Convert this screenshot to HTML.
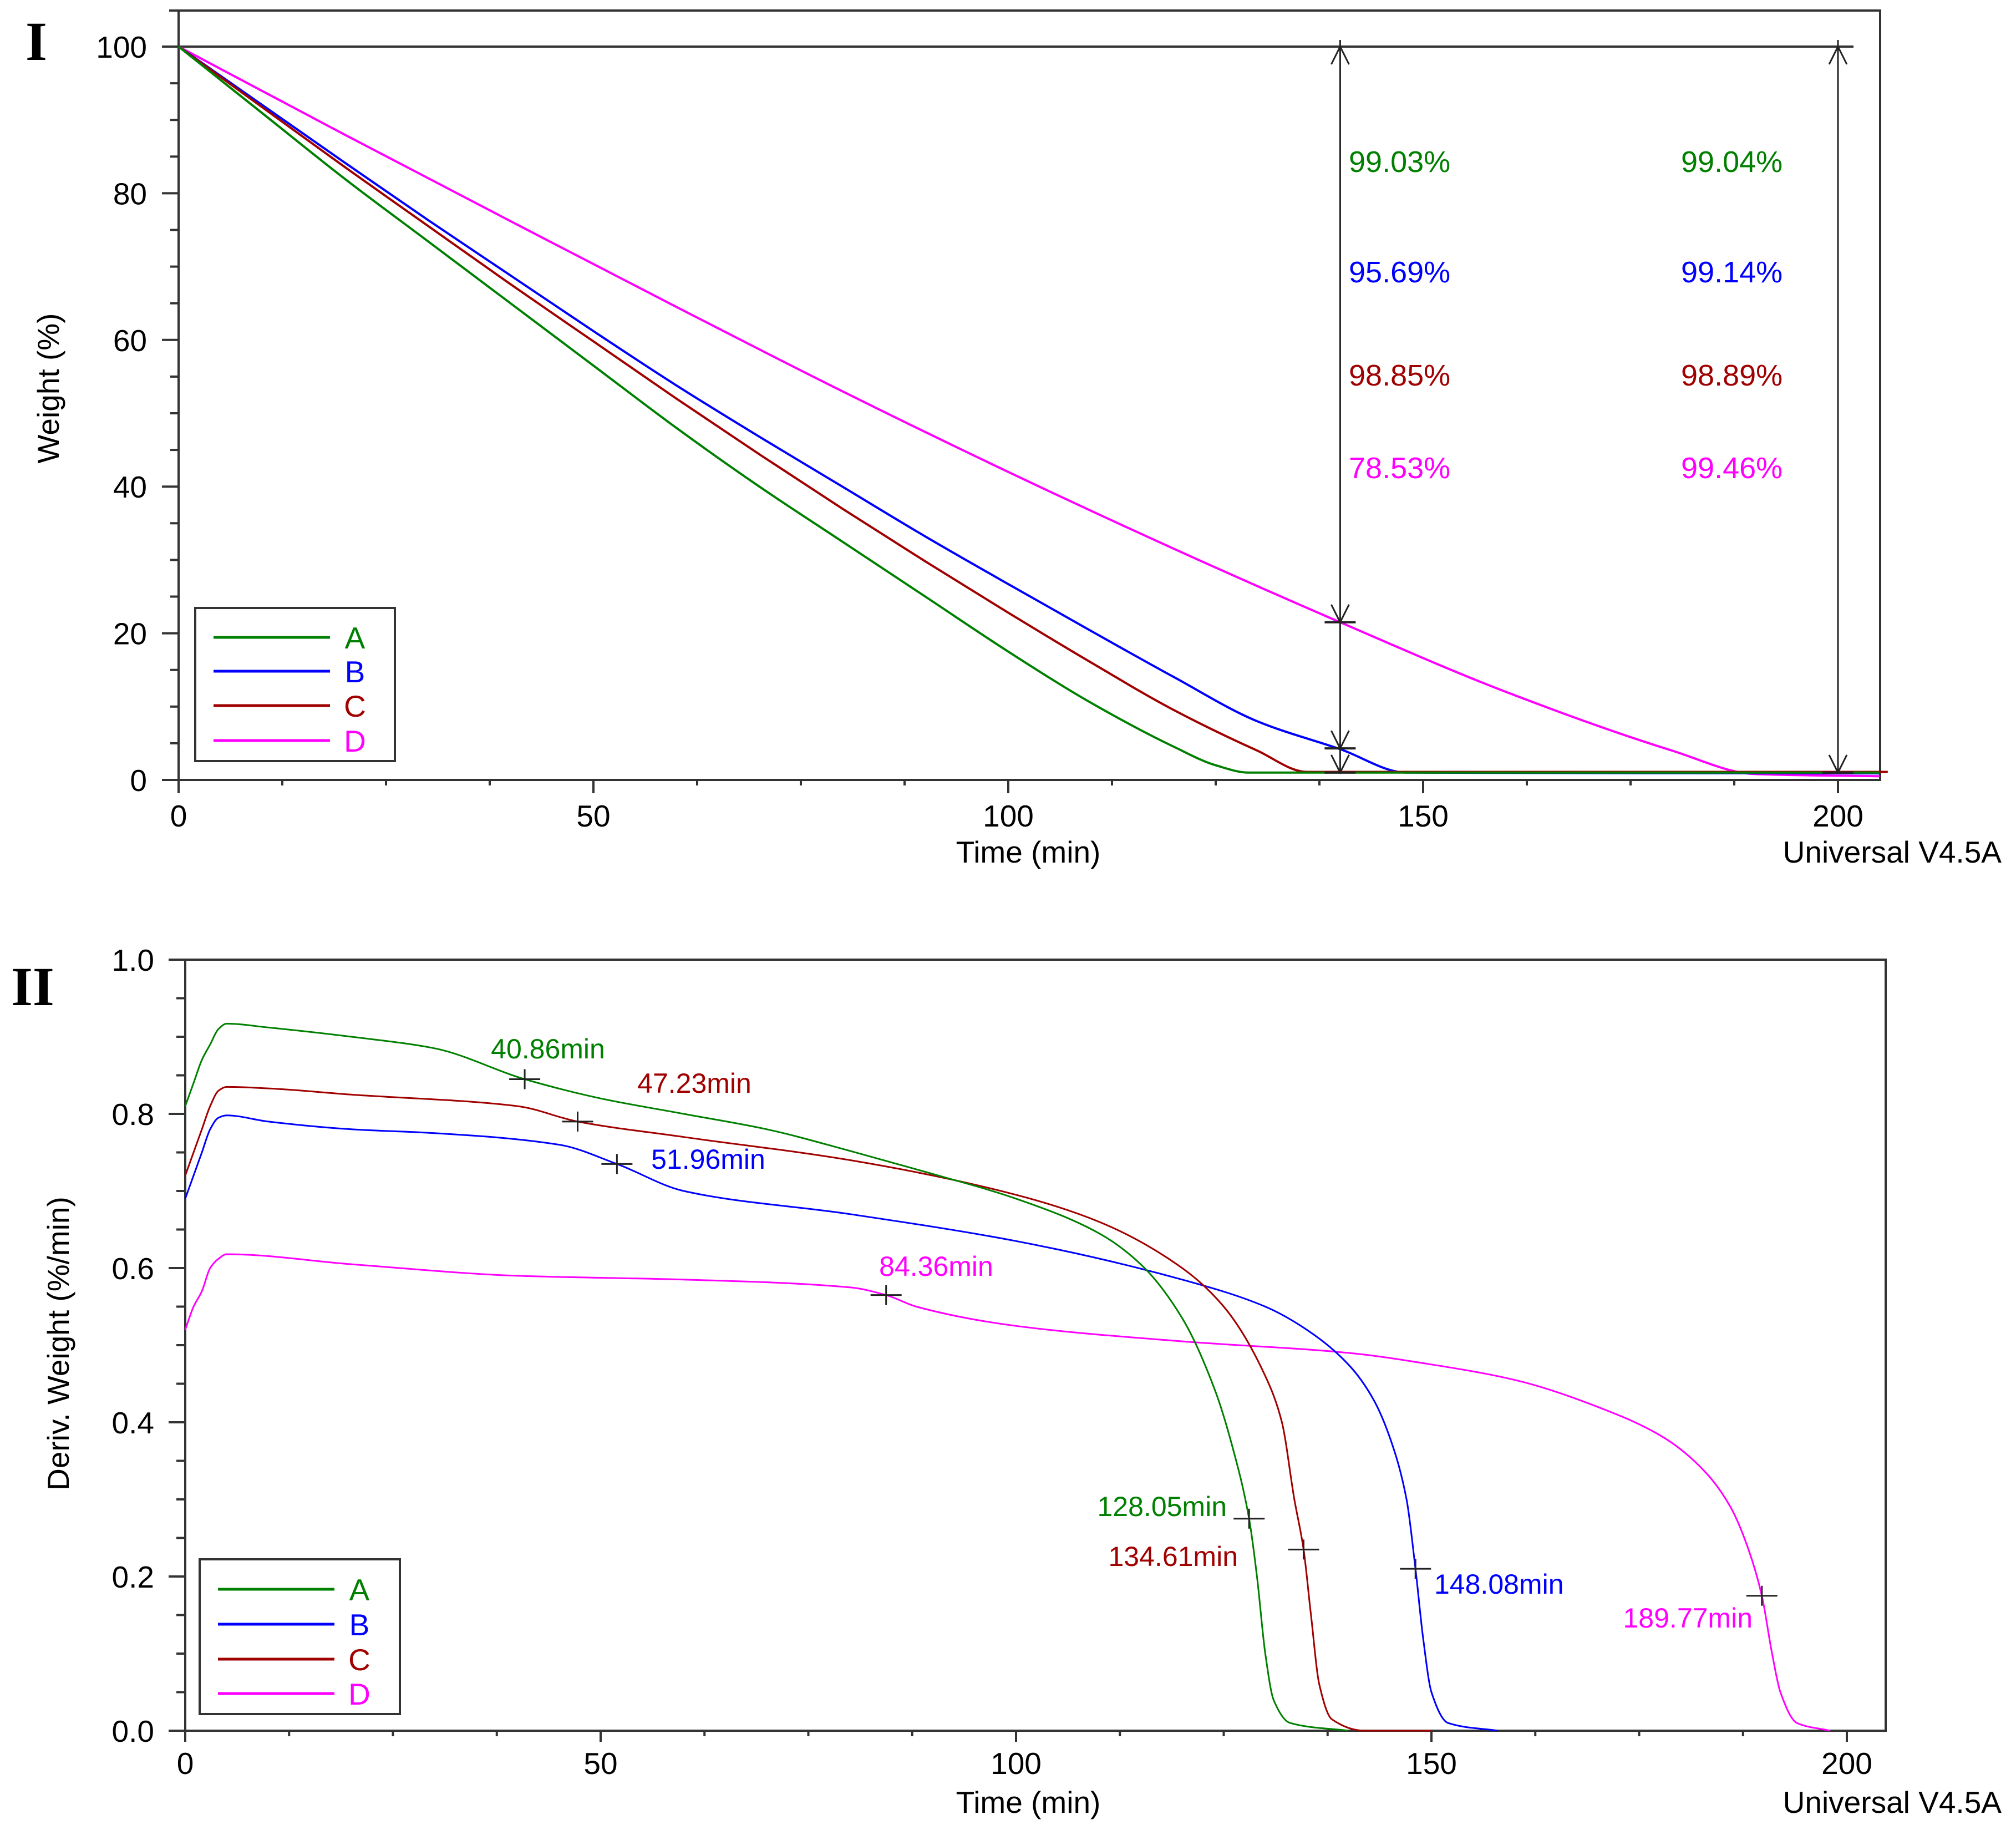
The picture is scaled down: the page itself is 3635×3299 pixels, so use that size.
<!DOCTYPE html>
<html><head><meta charset="utf-8"><style>
html,body{margin:0;padding:0;background:#fff;}
svg{display:block;font-family:"Liberation Sans",sans-serif;}
</style></head><body>
<svg id="fig" width="3635" height="3299" viewBox="0 0 3635 3299" xmlns="http://www.w3.org/2000/svg">
<rect x="0" y="0" width="3635" height="3299" fill="#fff"/>
<g id="p1"></g>
<g id="p2"></g>
</svg>
<script>
// ---- Panel I data (weight %) ----
const tA1 = [0,10,20,30,40,50,60,70,80,90,100,110,120,125,129,205];
const wA1 = [100,91,82,73.5,65,56.5,48,40,32.5,25,17.5,10.5,4.5,2,1,1];
const tB1 = [0,10,20,30,40,50,60,70,80,90,100,110,120,130,140,148,205];
const wB1 = [100,92.1,84.2,76.4,68.8,61.2,53.8,46.8,40,33.2,26.7,20.3,14,8,4.2,1,0.9];
const tC1 = [0,10,20,30,40,50,60,70,80,90,100,110,120,130,136,206];
const wC1 = [100,91.8,83.6,75.6,67.6,59.8,52,44.4,37,29.8,22.8,16,9.5,4,1.1,1.1];
const tD1 = [0,20,40,60,80,100,120,140,160,180,190,205];
const wD1 = [100,88,76.2,64.5,53,42,31.5,21.5,12,4,0.8,0.5];
const xTicks1 = [0,50,100,150,200];
const yTicks1 = [0,20,40,60,80,100];
const pctCol1 = ["99.03%","95.69%","98.85%","78.53%"];
const pctCol2 = ["99.04%","99.14%","98.89%","99.46%"];
const stepTimes = [140,200];
const stepMarks1 = [21.5,4.3,1.0];
const stepMarks2 = [1.0];

// ---- Panel II data (deriv weight %/min) ----
const tA2 = [0,1,2,3,4,5,10,20,30,40.86,50,60,70,80,90,100,110,115,120,124,126,128.05,129,130,131,133,140];
const dA2 = [0.81,0.84,0.87,0.89,0.91,0.917,0.912,0.9,0.885,0.845,0.82,0.8,0.78,0.752,0.722,0.69,0.645,0.605,0.535,0.44,0.37,0.275,0.2,0.1,0.04,0.01,0];
const tB2 = [0,1,2,3,4,5,10,20,30,45,51.96,60,80,100,120,130,135,140,143,145,147,148.08,149,150,152,158];
const dB2 = [0.69,0.72,0.75,0.78,0.795,0.798,0.79,0.78,0.775,0.76,0.735,0.7,0.67,0.635,0.585,0.55,0.52,0.475,0.43,0.38,0.3,0.21,0.12,0.05,0.01,0];
const tC2 = [0,1,2,3,4,5,10,20,40,47.23,60,80,100,110,120,125,130,132,133.5,134.61,135.5,136.5,138,142,150];
const dC2 = [0.72,0.75,0.78,0.81,0.83,0.835,0.833,0.825,0.81,0.79,0.77,0.74,0.695,0.66,0.6,0.55,0.46,0.4,0.3,0.235,0.15,0.06,0.015,0,0];
const tD2 = [0,1,2,3,4,5,20,40,60,80,84.36,88,100,120,140,150,160,170,178,183,186,188,189.77,191,192,194,198];
const dD2 = [0.52,0.55,0.57,0.6,0.612,0.618,0.605,0.59,0.585,0.575,0.565,0.55,0.525,0.505,0.49,0.475,0.455,0.42,0.38,0.335,0.29,0.24,0.175,0.1,0.05,0.01,0];
const xTicks2 = [0,50,100,150,200];
const yTicks2 = [0.0,0.2,0.4,0.6,0.8,1.0];
const peakT = [40.86,51.96,47.23,84.36,128.05,148.08,134.61,189.77];
const peakV = [0.845,0.735,0.79,0.565,0.275,0.21,0.235,0.175];
const peakLbl = ["40.86min","51.96min","47.23min","84.36min","128.05min","148.08min","134.61min","189.77min"];

const COL = {A:"#008000",B:"#0000ff",C:"#a00000",D:"#ff00ff"};
const NS = "http://www.w3.org/2000/svg";
function mk(parent, tag, attrs, text){
  const e = document.createElementNS(NS, tag);
  for (const k in attrs) e.setAttribute(k, attrs[k]);
  if (text !== undefined) e.textContent = text;
  parent.appendChild(e); return e;
}
function smoothPath(xs, ys){
  const n = xs.length;
  const d = [], m = new Array(n).fill(0);
  for (let i=0;i<n-1;i++) d.push((ys[i+1]-ys[i])/(xs[i+1]-xs[i]));
  m[0]=d[0]; m[n-1]=d[n-2];
  for (let i=1;i<n-1;i++){
    if (d[i-1]*d[i]<=0) m[i]=0;
    else { const w1=2*(xs[i+1]-xs[i])+(xs[i]-xs[i-1]), w2=(xs[i+1]-xs[i])+2*(xs[i]-xs[i-1]);
      m[i]=(w1+w2)/(w1/d[i-1]+w2/d[i]); }
  }
  let p = 'M'+xs[0].toFixed(1)+','+ys[0].toFixed(1);
  for (let i=0;i<n-1;i++){
    const h=(xs[i+1]-xs[i])/3;
    p += ` C${(xs[i]+h).toFixed(1)},${(ys[i]+m[i]*h).toFixed(1)} ${(xs[i+1]-h).toFixed(1)},${(ys[i+1]-m[i+1]*h).toFixed(1)} ${xs[i+1].toFixed(1)},${ys[i+1].toFixed(1)}`;
  }
  return p;
}

// ---- Panel I ----
const p1 = document.getElementById('p1');
const X1 = t => 322 + t*(3314-322)/200;
const Y1 = w => 1406 - w*(1406-84)/100;
let e;
e = mk(p1,'rect',{x:322,y:19,width:3390-322,height:1406-19,fill:'none',stroke:'#333','stroke-width':4});
 
e = mk(p1,'line',{x1:305,y1:19,x2:322,y2:19,stroke:'#333','stroke-width':4});
e = mk(p1,'line',{x1:322,y1:Y1(100),x2:3342,y2:Y1(100),stroke:'#333','stroke-width':4});
 
for (let v=0; v<=100; v+=5){
  const maj = v%20===0;
  e = mk(p1,'line',{x1:maj?292:307,y1:Y1(v),x2:322,y2:Y1(v),stroke:'#333','stroke-width':4});
   
}
yTicks1.forEach(v=>{
  e = mk(p1,'text',{x:265,y:Y1(v)+20,'font-size':55,'text-anchor':'end',fill:'#000'},String(v));
   
});
for (let t=0; t<=205; t+=12.5){
  const maj = t%50===0;
  e = mk(p1,'line',{x1:X1(t),y1:1406,x2:X1(t),y2:maj?1430:1416,stroke:'#333','stroke-width':4});
   
}
xTicks1.forEach(t=>{
  e = mk(p1,'text',{x:X1(t),y:1490,'font-size':55,'text-anchor':'middle',fill:'#000'},String(t));
   
});
e = mk(p1,'text',{x:1854,y:1555,'font-size':55,'text-anchor':'middle',fill:'#000'},'Time (min)');
 
e = mk(p1,'text',{x:3609,y:1555,'font-size':55,'text-anchor':'end',fill:'#000'},'Universal V4.5A');
 
e = mk(p1,'text',{x:0,y:0,'font-size':55,'text-anchor':'middle',fill:'#000',transform:'translate(106,700) rotate(-90)'},'Weight (%)');
 
e = mk(p1,'text',{x:46,y:108,'font-size':100,'font-weight':'bold','font-family':'Liberation Serif, serif',fill:'#000'},'I');
 

function series(parent, ts, vs, X, Y, col, name, sw){
  const d = smoothPath(ts.map(X), vs.map(Y));
  const p = mk(parent,'path',{d:d,fill:'none',stroke:col,'stroke-width':sw,'stroke-linejoin':'round'});
  
  
}
series(p1,tD1,wD1,X1,Y1,COL.D,'weight-curve-d',4);
series(p1,tB1,wB1,X1,Y1,COL.B,'weight-curve-b',4);
series(p1,tC1,wC1,X1,Y1,COL.C,'weight-curve-c',4);
series(p1,tA1,wA1,X1,Y1,COL.A,'weight-curve-a',4);

function arrowHead(parent,x,y,dir){
  mk(parent,'path',{d:`M${x-16},${y+dir*32} L${x},${y} L${x+16},${y+dir*32}`,fill:'none',stroke:'#222','stroke-width':3});
}
stepTimes.forEach((t,k)=>{
  const x = X1(t);
  const marks = k===0?stepMarks1:stepMarks2;
  e = mk(p1,'line',{x1:x,y1:Y1(100),x2:x,y2:Y1(marks[marks.length-1]),stroke:'#222','stroke-width':3});
   
  mk(p1,'line',{x1:x,y1:Y1(100)-12,x2:x,y2:Y1(100),stroke:'#222','stroke-width':3});
  arrowHead(p1,x,Y1(100),1);
  marks.forEach(m=>{
    arrowHead(p1,x,Y1(m),-1);
    mk(p1,'line',{x1:x-28,y1:Y1(m),x2:x+28,y2:Y1(m),stroke:'#222','stroke-width':4});
  });
});
const pctY = [310,509,695,862];
const cols = [COL.A,COL.B,COL.C,COL.D];
pctCol1.forEach((s,i)=>{
  e = mk(p1,'text',{x:2432,y:pctY[i],'font-size':54,fill:cols[i]},s);
   
});
pctCol2.forEach((s,i)=>{
  e = mk(p1,'text',{x:3031,y:pctY[i],'font-size':54,fill:cols[i]},s);
   
});

function legend(parent, x, y, w, h, lineYs, name){
  const g = mk(parent,'g',{});
  
  
  mk(g,'rect',{x:x,y:y,width:w,height:h,fill:'#fff',stroke:'#333','stroke-width':4});
  ['A','B','C','D'].forEach((L,i)=>{
    const it = mk(g,'g',{});
    
    
    mk(it,'line',{x1:x+33,y1:lineYs[i],x2:x+243,y2:lineYs[i],stroke:COL[L],'stroke-width':5});
    mk(it,'text',{x:x+288,y:lineYs[i]+20,'font-size':55,'text-anchor':'middle',fill:COL[L]},L);
  });
}
legend(p1,352,1096,360,276,[1149,1210,1272,1335],'legend-1');

// ---- Panel II ----
const p2 = document.getElementById('p2');
const X2 = t => 334 + t*(3330-334)/200;
const Y2 = v => 3120 - v*(3120-1730);
e = mk(p2,'rect',{x:334,y:1730,width:3400-334,height:3120-1730,fill:'none',stroke:'#333','stroke-width':4});
 
for (let i=0;i<=20;i++){
  const v=i*0.05, maj=i%4===0;
  e = mk(p2,'line',{x1:maj?304:318,y1:Y2(v),x2:334,y2:Y2(v),stroke:'#333','stroke-width':4});
   
}
yTicks2.forEach(v=>{
  e = mk(p2,'text',{x:278,y:Y2(v)+20,'font-size':55,'text-anchor':'end',fill:'#000'},v.toFixed(1));
   
});
for (let t=0; t<=206; t+=12.5){
  const maj = t%50===0;
  e = mk(p2,'line',{x1:X2(t),y1:3120,x2:X2(t),y2:maj?3140:3130,stroke:'#333','stroke-width':4});
   
}
xTicks2.forEach(t=>{
  e = mk(p2,'text',{x:X2(t),y:3198,'font-size':55,'text-anchor':'middle',fill:'#000'},String(t));
   
});
e = mk(p2,'text',{x:1854,y:3268,'font-size':55,'text-anchor':'middle',fill:'#000'},'Time (min)');
 
e = mk(p2,'text',{x:3609,y:3268,'font-size':55,'text-anchor':'end',fill:'#000'},'Universal V4.5A');
 
e = mk(p2,'text',{x:0,y:0,'font-size':55,'text-anchor':'middle',fill:'#000',transform:'translate(124,2422) rotate(-90)'},'Deriv. Weight (%/min)');
 
e = mk(p2,'text',{x:20,y:1812,'font-size':100,'font-weight':'bold','font-family':'Liberation Serif, serif',fill:'#000'},'II');
 

series(p2,tD2,dD2,X2,Y2,COL.D,'deriv-curve-d',3);
series(p2,tB2,dB2,X2,Y2,COL.B,'deriv-curve-b',3);
series(p2,tC2,dC2,X2,Y2,COL.C,'deriv-curve-c',3);
series(p2,tA2,dA2,X2,Y2,COL.A,'deriv-curve-a',3);

const peakCol = [COL.A,COL.B,COL.C,COL.D,COL.A,COL.B,COL.C,COL.D];
const lblPos = [[988,1908,'middle'],[1277,2107,'middle'],[1252,1970,'middle'],[1688,2300,'middle'],[2212,2733,'end'],[2586,2873,'start'],[2232,2823,'end'],[3160,2934,'end']];
peakT.forEach((t,i)=>{
  const x=X2(t), y=Y2(peakV[i]);
  const c = mk(p2,'path',{d:`M${x-28},${y} L${x+28},${y} M${x},${y-18} L${x},${y+18}`,stroke:'#222','stroke-width':3,fill:'none'});
  
  
  const lp = lblPos[i];
  const tx = mk(p2,'text',{x:lp[0],y:lp[1],'font-size':50,'text-anchor':lp[2],fill:peakCol[i]},peakLbl[i]);
  
  
});
legend(p2,360,2811,361,279,[2865,2928,2991,3053],'legend-2');
</script>
</body></html>
